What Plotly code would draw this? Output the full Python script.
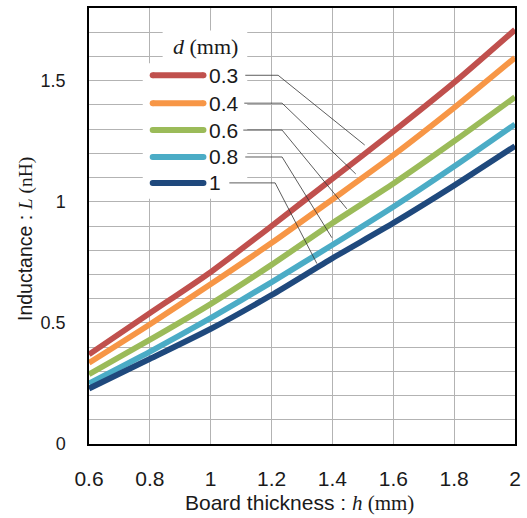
import plotly.graph_objects as go

# ---- data ----
h_mm = [0.6, 0.8, 1.0, 1.2, 1.4, 1.6, 1.8, 2.0]
d_labels = ["0.3", "0.4", "0.6", "0.8", "1"]
L_d03 = [0.370, 0.540, 0.710, 0.900, 1.095, 1.290, 1.492, 1.710]
L_d04 = [0.335, 0.494, 0.660, 0.830, 1.010, 1.192, 1.388, 1.595]
L_d06 = [0.288, 0.430, 0.578, 0.740, 0.912, 1.075, 1.250, 1.432]
L_d08 = [0.250, 0.381, 0.520, 0.668, 0.822, 0.979, 1.146, 1.320]
L_d10 = [0.229, 0.351, 0.475, 0.615, 0.767, 0.912, 1.067, 1.230]
series = [L_d03, L_d04, L_d06, L_d08, L_d10]
colors = ["#C0504D", "#F79646", "#9BBB59", "#4BACC6", "#1F497D"]
x_ticks = [0.6, 0.8, 1.0, 1.2, 1.4, 1.6, 1.8, 2.0]
x_ticklabels = ["0.6", "0.8", "1", "1.2", "1.4", "1.6", "1.8", "2"]
y_ticks = [0, 0.5, 1.0, 1.5]
y_ticklabels = ["0", "0.5", "1", "1.5"]

W, H = 527, 518
ML, MR, MT, MB = 89, 10, 6.5, 74
XR = [0.6, 2.0]
YR = [0.0, 1.8]
PW = W - ML - MR
PH = H - MT - MB


def px2x(px):
    return XR[0] + (px - ML) / PW * (XR[1] - XR[0])


def py2y(py):
    return YR[0] + (H - MB - py) / PH * (YR[1] - YR[0])


SANS = "Liberation Sans, Arial, sans-serif"
SERIF = "Liberation Serif, Times New Roman, serif"

fig = go.Figure()
for lab, ys, c in zip(d_labels, series, colors):
    fig.add_trace(go.Scatter(x=h_mm, y=ys, mode="lines", name=lab,
                             line=dict(color=c, width=5.8, shape="spline", smoothing=0.6),
                             showlegend=False, hoverinfo="skip"))

shapes = []
# legend background boxes (between gridlines and traces)
shapes.append(dict(type="rect", xref="x", yref="y", layer="between",
                   x0=px2x(163), x1=px2x(248), y0=py2y(29), y1=py2y(63),
                   fillcolor="white", line=dict(width=0)))
shapes.append(dict(type="rect", xref="x", yref="y", layer="between",
                   x0=px2x(143), x1=px2x(248), y0=py2y(62), y1=py2y(198),
                   fillcolor="white", line=dict(width=0)))

row_y = [74, 102, 129, 156, 182]
leader_start = [246, 245, 244, 246, 230]
leader_corner = [279, 283, 283, 283, 276]
leader_end = [(366, 144), (357, 173), (348, 208), (333, 237), (318, 263)]

annotations = []
for i, (lab, c) in enumerate(zip(d_labels, colors)):
    ry = row_y[i]
    # legend symbol with rounded ends
    fig.add_trace(go.Scatter(x=[px2x(153), px2x(204)], y=[py2y(ry), py2y(ry)],
                             mode="lines+markers", line=dict(color=c, width=6),
                             marker=dict(color=c, size=6), showlegend=False,
                             hoverinfo="skip", cliponaxis=False))
    annotations.append(dict(x=px2x(208), y=py2y(ry), xref="x", yref="y",
                            text=lab, showarrow=False, xanchor="left", yanchor="middle",
                            font=dict(family=SANS, size=21, color="#1a1a1a")))
    ex, ey = leader_end[i]
    shapes.append(dict(type="path", xref="x", yref="y", layer="above",
                       path="M {} {} L {} {} L {} {}".format(
                           px2x(leader_start[i]), py2y(ry),
                           px2x(leader_corner[i]), py2y(ry),
                           px2x(ex), py2y(ey)),
                       line=dict(color="#333333", width=0.8)))

annotations.append(dict(x=px2x(206), y=py2y(45), xref="x", yref="y", showarrow=False,
                        xanchor="center", yanchor="middle",
                        text="<i>d</i> (mm)",
                        font=dict(family=SERIF, size=22, color="#1a1a1a")))

# axis titles
annotations.append(dict(x=(300 - ML) / PW, y=(H - MB - 503) / PH, xref="paper", yref="paper",
                        showarrow=False, xanchor="center", yanchor="middle",
                        text="Board thickness : <span style='font-family:Liberation Serif'><i>h</i> (mm)</span>",
                        font=dict(family=SANS, size=21, color="#1a1a1a")))
annotations.append(dict(x=(25 - ML) / PW, y=(H - MB - 238) / PH, xref="paper", yref="paper",
                        showarrow=False, xanchor="center", yanchor="middle", textangle=-90,
                        text="Inductance : <span style='font-family:Liberation Serif'><i>L</i> (nH)</span>",
                        font=dict(family=SANS, size=19.5, color="#1a1a1a")))

fig.update_layout(
    width=W, height=H,
    margin=dict(l=ML, r=MR, t=MT, b=MB, pad=0),
    paper_bgcolor="white", plot_bgcolor="white",
    shapes=shapes, annotations=annotations,
    showlegend=False,
    xaxis=dict(range=XR, tickmode="array", tickvals=x_ticks, ticktext=x_ticklabels,
               showgrid=True, gridcolor="#B3B3B3", gridwidth=1,
               showline=True, linecolor="black", linewidth=1.5, mirror=True,
               ticks="", ticklabelstandoff=15, zeroline=False,
               tickfont=dict(family=SANS, size=21, color="#1a1a1a")),
    yaxis=dict(range=YR, tickmode="array", tickvals=y_ticks, ticktext=y_ticklabels,
               showgrid=True, gridcolor="#B3B3B3", gridwidth=1,
               minor=dict(dtick=0.1, showgrid=True, gridcolor="#B3B3B3", gridwidth=1),
               showline=True, linecolor="black", linewidth=1.5, mirror=True,
               ticks="", ticklabelstandoff=18, zeroline=False,
               tickfont=dict(family=SANS, size=18, color="#1a1a1a")),
)

fig.write_html("out.html", config={"displayModeBar": False},
               post_script="document.body.style.margin='0';document.body.style.overflow='hidden';")
